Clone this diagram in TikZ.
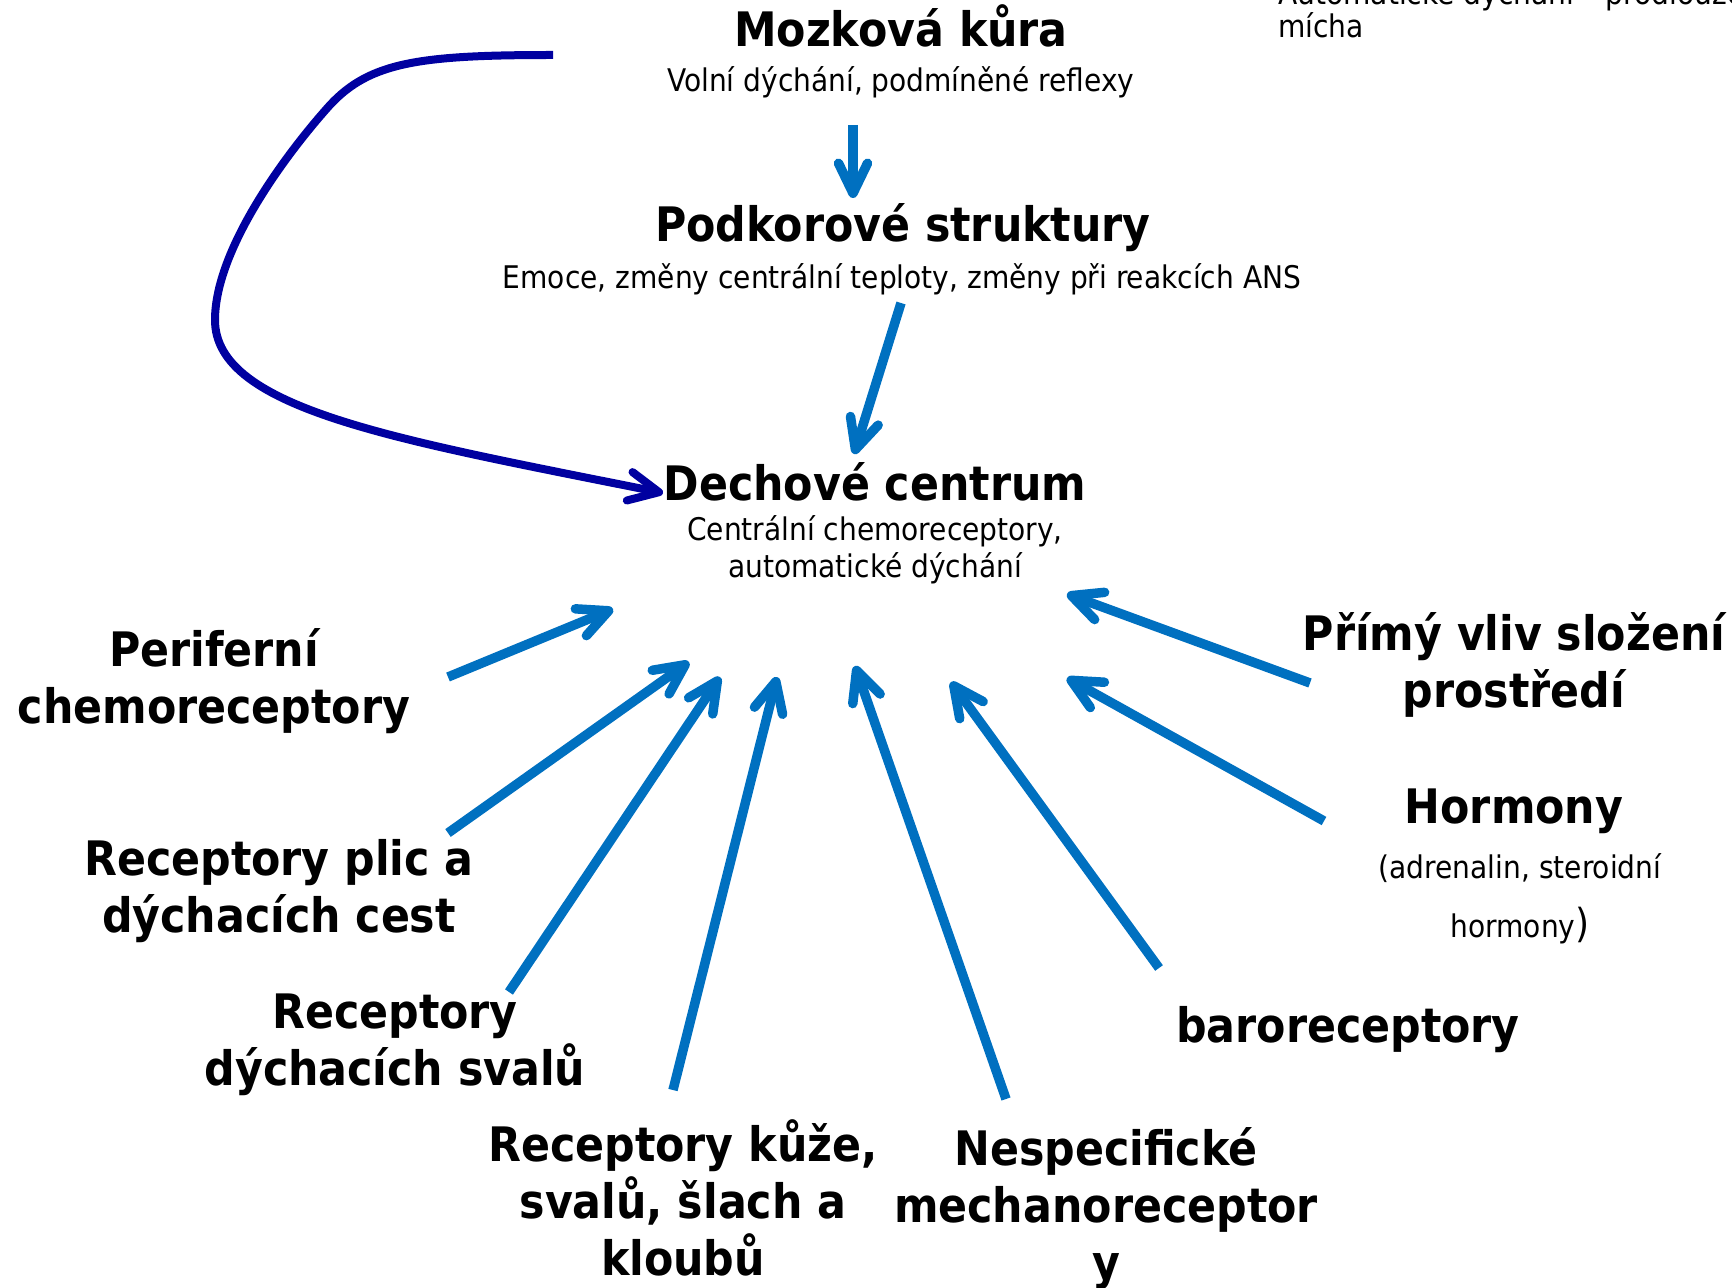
\documentclass[tikz,border=0pt]{standalone}
\usepackage{fontspec}
\setmainfont{DejaVu Sans Condensed}
\usetikzlibrary{arrows.meta}
\definecolor{arrblue}{HTML}{0070C0}
\definecolor{navyblue}{HTML}{0000A0}
\tikzset{
  lbl/.style={font=\fontsize{23.75}{28.5}\selectfont\bfseries, align=center, inner sep=0pt, anchor=base},
  sublbl/.style={font=\fontsize{15.6}{18.5}\selectfont, align=center, inner sep=0pt, anchor=base},
  barb/.style={-{Straight Barb[length=15pt,width=14.5pt,round]}},
  infl/.style={draw=arrblue, line width=4.75pt, barb},
  volni/.style={draw=navyblue, line width=4pt, barb},
}
\begin{document}
\begin{tikzpicture}[x=0.5pt,y=-0.5pt]
\useasboundingbox (0,0) rectangle (1732,1288);
% top-right cut text (anchor = baseline of last line)
\node[font=\fontsize{15.6}{16.5}\selectfont, align=left, inner sep=0pt, anchor=base west] (micha) at (1278,38) {Automatické dýchání – prodloužená\\mícha};
% centre column
\node[lbl] (kura) at (901,47) {Mozková kůra};
\node[sublbl] (kurasub) at (901,92) {Volní dýchání, podmíněné reflexy};
\node[lbl] (podkor) at (903,242) {Podkorové struktury};
\node[sublbl] (podkorsub) at (902,289) {Emoce, změny centrální teploty, změny při reakcích ANS};
\node[lbl] (dech) at (875,500) {Dechové centrum};
\node[sublbl] (dechsub) at (875,577) {Centrální chemoreceptory,\\automatické dýchání};
% surrounding labels (anchor = baseline of last line)
\node[lbl] (perif) at (214,723) {Periferní\\chemoreceptory};
\node[lbl] (plic) at (279,932) {Receptory plic a\\dýchacích cest};
\node[lbl] (svaly) at (395,1085) {Receptory\\dýchacích svalů};
\node[lbl] (kuze) at (683,1275) {Receptory kůže,\\svalů, šlach a\\kloubů};
\node[lbl] (nespec) at (1106,1279) {Nespecifické\\mechanoreceptor\\y};
\node[lbl] (baro) at (1348,1042) {baroreceptory};
\node[lbl] (horm) at (1514,823) {Hormony};
\node[sublbl, font=\fontsize{15.6}{29.5}\selectfont] (hormsub) at (1520,937) {(adrenalin, steroidní\\hormony{\fontsize{20}{29.5}\selectfont)}};
\node[lbl] (prime) at (1514,707) {Přímý vliv složení\\prostředí};
% connector ends
\coordinate (a1s) at (853,125);  \coordinate (a1e) at (853,198);
\coordinate (a2s) at (901,303);  \coordinate (a2e) at (854,454);
\coordinate (c0) at (553,55);    \coordinate (c1) at (330,105);
\coordinate (c2) at (215,320);   \coordinate (c3) at (663,493);
\coordinate (p1s) at (448,677);  \coordinate (p1e) at (613,609);
\coordinate (p2s) at (448,833);  \coordinate (p2e) at (689,662);
\coordinate (p3s) at (509,992);  \coordinate (p3e) at (720,677);
\coordinate (p4s) at (673,1090); \coordinate (p4e) at (777,677);
\coordinate (p5s) at (1006,1099);\coordinate (p5e) at (855,666);
\coordinate (p6s) at (1159,968); \coordinate (p6e) at (951,682);
\coordinate (p7s) at (1324,821); \coordinate (p7e) at (1067,678);
\coordinate (p8s) at (1310,683); \coordinate (p8e) at (1067,594);
% connectors
\draw[infl] (a1s) -- (a1e);
\draw[infl] (a2s) -- (a2e);
\draw[volni] (c0) .. controls (420,55) and (370,62) .. (c1)
  .. controls (285,155) and (215,250) .. (c2)
  .. controls (215,410) and (400,440) .. (c3);
\draw[infl] (p1s) -- (p1e);
\draw[infl] (p2s) -- (p2e);
\draw[infl] (p3s) -- (p3e);
\draw[infl] (p4s) -- (p4e);
\draw[infl] (p5s) -- (p5e);
\draw[infl] (p6s) -- (p6e);
\draw[infl] (p7s) -- (p7e);
\draw[infl] (p8s) -- (p8e);
\end{tikzpicture}
\end{document}
